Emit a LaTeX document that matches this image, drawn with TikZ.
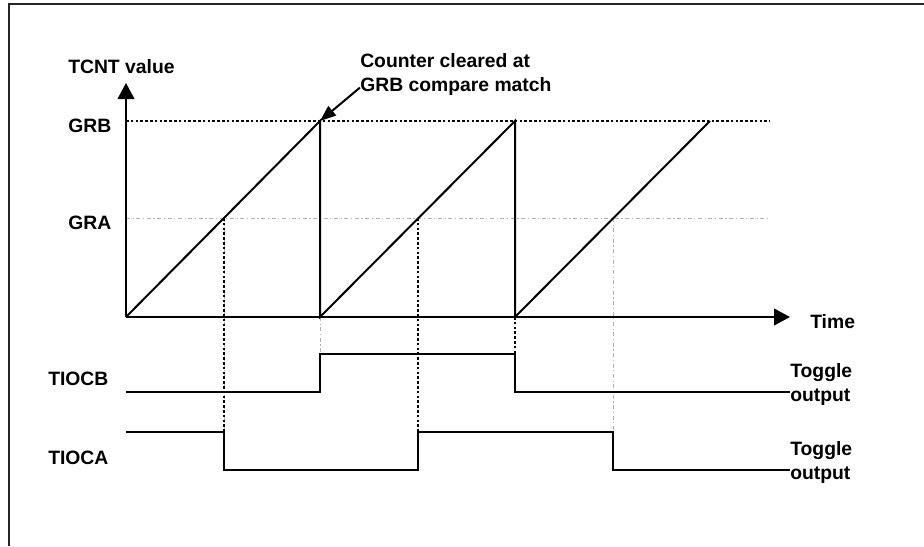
\documentclass[tikz,border=0pt]{standalone}
\usepackage{fontspec}
\setmainfont{Liberation Sans}
\usetikzlibrary{arrows.meta,positioning}

\begin{document}
\begin{tikzpicture}[x=0.75pt, y=-0.75pt,
    lbl/.style={font=\bfseries\fontsize{14.5}{18}\selectfont, inner sep=0pt, anchor=west},
    wave/.style={line width=1.5pt, line join=miter},
    bigdots/.style={line width=2.2pt, dash pattern=on 2pt off 1.6pt},
    guide/.style={black!30, line width=0.6pt, dash pattern=on 3pt off 2pt on 0.8pt off 2pt},
    axis/.style={line width=1.5pt, -{Triangle[length=12pt, width=12.5pt]}},
    callout/.style={line width=1.5pt, -{Triangle[length=12pt, width=9pt]}}]
  \useasboundingbox (0,0) rectangle (924,546);
  \draw[line width=2pt, black!85] (9,546) -- (9,4) -- (924,4);

  \coordinate (o) at (126,317);
  \coordinate (match) at (320,121);

  \node[lbl] (tcnt) at (68,67) {TCNT value};
  \node[lbl] (grb) at (68,126) {GRB};
  \node[lbl] (gra) at (68,223) {GRA};
  \node[lbl] (tiocb) at (48,379) {TIOCB};
  \node[lbl] (tioca) at (48,458) {TIOCA};
  \node[lbl] (time) at (810,322) {Time};
  \node[lbl, anchor=north west, align=left] (togb) at (790,363) {Toggle\\output};
  \node[lbl, anchor=north west, align=left] (toga) at (790,441) {Toggle\\output};
  \node[lbl, anchor=north west, align=left] (note) at (360,53) {Counter cleared at\\GRB compare match};

  \draw[guide] (126,218) -- (770,218);
  \draw[bigdots] (126,121) -- (770,121);
  \foreach \x in {224,613}
    \draw[guide] (\x,218) -- (\x,432);
  \draw[guide] (320,317) -- (320,354);
  \foreach \x in {224,418}
    \draw[bigdots] (\x,218) -- (\x,432);
  \draw[bigdots] (515,317) -- (515,354);

  \draw[axis] (o) -- (126,83);
  \draw[axis] (o) -- (790,317);
  \draw[wave] (o) -- (match) -- (320,317) -- (515,121) -- (515,317) -- (710,121);

  \draw[wave] (126,392) -- (320,392) -- (320,354) -- (515,354) -- (515,392) -- (togb.west |- 0,392);
  \draw[wave] (126,432) -- (224,432) -- (224,470) -- (418,470) -- (418,432) -- (613,432) -- (613,470) -- (toga.west |- 0,470);

  \draw[callout] ([yshift=6pt]note.south west) -- (match);
\end{tikzpicture}
\end{document}
